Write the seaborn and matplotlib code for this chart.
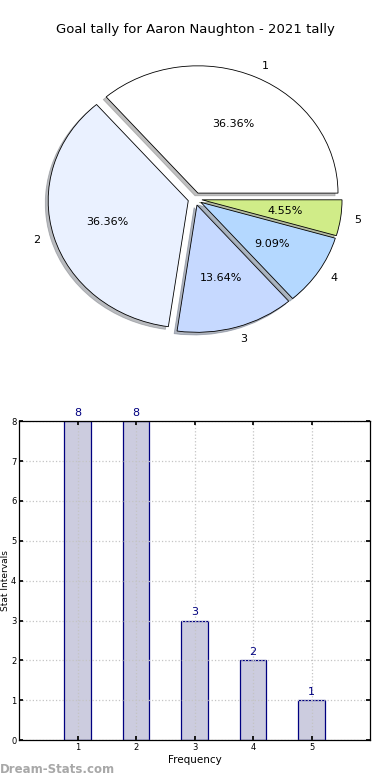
import matplotlib

matplotlib.use("Agg")
import matplotlib.pyplot as plt
import pandas as pd
import seaborn as sns

TITLE = "Goal tally for Aaron Naughton - 2021 tally"
categories = [1, 2, 3, 4, 5]
tallies = [8, 8, 3, 2, 1]
slice_colors = ["#ffffff", "#eaf1ff", "#c6d9ff", "#b4d8ff", "#d0ec88"]
y_ticks = [0, 1, 2, 3, 4, 5, 6, 7, 8]

BAR_FILL = "#ccccdf"
BAR_EDGE = "#000080"

sns.set_theme(style="white", rc={"text.color": "black"})
plt.rcParams["font.family"] = ["DejaVu Sans"]

fig = plt.figure(figsize=(3.9, 7.8), dpi=100)

# pie on top
ax_pie = fig.add_axes([0.051, 0.541, 0.898, 0.408])
ax_pie.pie(
    tallies,
    labels=[str(c) for c in categories],
    colors=slice_colors,
    explode=[0.05] * len(tallies),
    autopct="%.2f%%",
    shadow={"ox": -0.015, "oy": -0.015, "shade": 0.5},
    startangle=0,
    wedgeprops={"edgecolor": "black", "linewidth": 0.6},
    textprops={"fontsize": 8, "color": "black"},
)
ax_pie.set_aspect("auto")
ax_pie.set_xlim(-1.25, 1.25)
ax_pie.set_ylim(-1.25, 1.25)
fig.text(0.5, 0.962, TITLE, ha="center", va="center", fontsize=9.5, color="black")

# bar chart below
df = pd.DataFrame({"frequency": categories, "count": tallies})
ax = fig.add_axes([0.049, 0.051, 0.9, 0.409])
sns.barplot(
    data=df,
    x="frequency",
    y="count",
    native_scale=True,
    width=0.45,
    color=BAR_FILL,
    saturation=1,
    edgecolor=BAR_EDGE,
    linewidth=0.9,
    errorbar=None,
    ax=ax,
)
for x, h in zip(categories, tallies):
    ax.text(x, h + 0.08, str(h), ha="center", va="bottom", fontsize=8, color=BAR_EDGE)

ax.set_xlim(0, 6)
ax.set_ylim(0, 8)
ax.set_xticks(categories)
ax.set_yticks(y_ticks)
ax.tick_params(direction="in", length=3, labelsize=6, top=True, right=True,
               bottom=True, left=True, colors="black", pad=2)
ax.set_axisbelow(False)
ax.grid(True, linestyle=":", color="#c4c4c4", linewidth=0.9)
for s in ax.spines.values():
    s.set_visible(True)
    s.set_color("black")
    s.set_linewidth(0.9)
    s.set_zorder(5)
ax.set_xlabel("Frequency", fontsize=7.5, labelpad=2, color="black")
ax.set_ylabel("Stat Intervals", fontsize=6.5, color="black")
ax.yaxis.set_label_coords(-0.026, 0.5)

fig.text(0.0, 0.013, "Dream-Stats.com", ha="left", va="center",
         fontsize=8.5, fontweight="bold", color="#a8a8a8")

fig.savefig("out.png", dpi=100)
